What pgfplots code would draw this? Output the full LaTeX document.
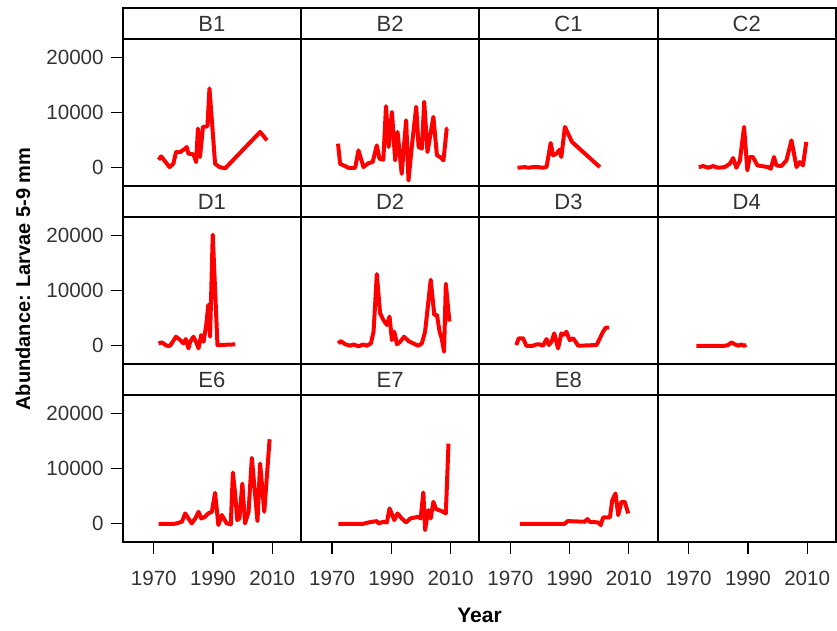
\documentclass[border=0pt]{standalone}
\usepackage{pgfplots}
\pgfplotsset{compat=1.18}
\usepackage{fontspec}
\setmainfont{Liberation Sans}
\definecolor{txtgray}{HTML}{333333}

\pgfplotsset{
  every axis title shift=0pt,
  panel/.style={
    scale only axis, width=89.15pt, height=73.5pt,
    xmin=1959.5, xmax=2019.7, ymin=-3300, ymax=23300,
    axis line style={line width=1pt, black},
    xtick=\empty, ytick=\empty,
    anchor=south west,
    tick align=outside,
    major tick length=6pt,
    tick style={black, line width=0.6pt},
    scaled ticks=false,
    /pgf/number format/1000 sep={},
    /pgf/number format/assume math mode=true,
    tick label style={font=\fontsize{10.3}{12}\selectfont, text=txtgray},
    xticklabel style={yshift=-5pt},
    title style={at={(rel axis cs:0.5,1)}, anchor=south, yshift=0pt, draw=black, line width=1pt,
      minimum width=89.15pt, minimum height=15.5pt, inner sep=0pt, outer sep=0pt,
      font=\fontsize{11}{13}\selectfont, text=txtgray},
  },
  leftcol/.style={ytick={0,10000,20000}, ytick pos=left},
  bottomrow/.style={xtick={1970,1990,2010}, xtick pos=bottom},
  ser/.style={color=red, line width=2pt, line join=round, no markers},
}

\begin{document}
\begin{tikzpicture}
\useasboundingbox (0,0) rectangle (418.5pt,315.5pt);

% Row 1
\begin{axis}[panel, leftcol, title={B1}, at={(61.35pt,222.5pt)}]
\addplot[ser] coordinates {(1971.6,1450)(1972.5,2060)(1975.3,120)(1976.6,730)(1977.5,2850)(1978.9,2850)(1980.6,3450)(1981.1,3760)(1981.7,2550)(1983.4,2420)(1984.3,1030)(1984.9,7090)(1985.6,1940)(1986.6,7390)(1988.1,7500)(1988.8,14360)(1990.7,730)(1992.2,120)(1994.1,-100)(2005.9,6480)(2008.2,4970)};
\end{axis}
\begin{axis}[panel, title={B2}, at={(150.5pt,222.5pt)}]
\addplot[ser] coordinates {(1972,4360)(1972.7,730)(1975.5,0)(1977.8,0)(1978.9,3150)(1980.6,120)(1982.3,850)(1983.7,1030)(1985.1,4060)(1986,1640)(1987.3,1450)(1988.2,11150)(1989.1,3760)(1990.2,10100)(1991.3,1330)(1992.1,6480)(1993.5,-1090)(1995,8600)(1995.8,-2300)(1996.9,3760)(1998.4,11030)(1999.2,3760)(2000.3,3450)(2001.1,11940)(2002.2,2850)(2004.2,9210)(2005.4,2240)(2006.5,1940)(2007.6,1330)(2008.7,7090)(2009,7090)};
\end{axis}
\begin{axis}[panel, title={C1}, at={(239.65pt,222.5pt)}]
\addplot[ser] coordinates {(1972.4,0)(1974.9,120)(1976,0)(1977.7,120)(1979.4,120)(1980.7,0)(1982.2,120)(1983.6,4480)(1984.4,2240)(1985.5,2540)(1986.7,3270)(1987.2,1940)(1988.4,7390)(1990.8,4670)(2000.2,120)};
\end{axis}
\begin{axis}[panel, title={C2}, at={(328.8pt,222.5pt)}]
\addplot[ser] coordinates {(1973.4,120)(1974.9,300)(1976.6,0)(1978.2,300)(1979.9,0)(1982.2,120)(1983.9,730)(1985,1760)(1986.1,0)(1987.3,1330)(1988.7,7390)(1989.8,-480)(1990.6,1940)(1991.7,1940)(1993.2,420)(1996.8,120)(1997.7,-180)(1998.8,1940)(1999.6,420)(2001.3,300)(2003,1330)(2004.7,4970)(2006.4,120)(2007.5,1030)(2008.6,420)(2009.7,4670)};
\end{axis}

% Row 2
\begin{axis}[panel, leftcol, title={D1}, at={(61.35pt,133.5pt)}]
\addplot[ser] coordinates {(1971.6,430)(1972.7,610)(1974.4,0)(1975.5,0)(1977.5,1640)(1978.9,1030)(1980,430)(1980.8,1210)(1981.7,-480)(1982.3,730)(1983.4,1640)(1984.5,430)(1985.1,-480)(1986,1940)(1986.8,730)(1987.7,3760)(1988.4,7400)(1989,1640)(1989.9,20100)(1991.5,120)(1997.5,250)};
\end{axis}
\begin{axis}[panel, title={D2}, at={(150.5pt,133.5pt)}]
\addplot[ser] coordinates {(1972.1,430)(1972.9,850)(1974.5,250)(1976.1,0)(1977.2,250)(1978.9,-100)(1980.6,250)(1981.7,0)(1983.1,430)(1984,2550)(1985.1,12970)(1986.2,5890)(1987.3,4670)(1988.5,3760)(1989.4,5280)(1990.2,1030)(1991,2550)(1991.9,250)(1993,730)(1994.3,1640)(1995.8,850)(1997.4,430)(1999.1,0)(2000.3,430)(2001.4,2550)(2003.3,11940)(2004.5,5580)(2005.4,5580)(2006.3,2550)(2007,1330)(2007.8,-1080)(2008.4,11210)(2009.6,4370)};
\end{axis}
\begin{axis}[panel, title={D3}, at={(239.65pt,133.5pt)}]
\addplot[ser] coordinates {(1972,130)(1972.8,1340)(1974.3,1340)(1975.4,0)(1977.7,0)(1978.8,250)(1979.9,250)(1981,0)(1982.2,1210)(1983,130)(1983.9,730)(1984.8,2240)(1985.5,730)(1986.1,-480)(1987.2,2240)(1988.1,1940)(1988.9,2550)(1990,1030)(1991.2,1340)(1992.9,0)(1999.1,130)(2001.3,2550)(2002.2,3270)(2003.3,3270)};
\end{axis}
\begin{axis}[panel, title={D4}, at={(328.8pt,133.5pt)}]
\addplot[ser] coordinates {(1972.6,0)(1982.2,0)(1983.3,130)(1984.4,610)(1985.6,250)(1986.7,0)(1987.8,250)(1988.6,0)(1989.5,130)};
\end{axis}

% Row 3
\begin{axis}[panel, leftcol, bottomrow, title={E6}, at={(61.35pt,44.5pt)}]
\addplot[ser] coordinates {(1971.6,0)(1977.2,0)(1979.5,360)(1980.6,1870)(1981.7,960)(1982.8,60)(1984,960)(1985.1,2170)(1986,960)(1987.3,1260)(1988.4,1870)(1989.6,2170)(1990.7,5600)(1991.8,-240)(1993,1570)(1994.6,60)(1996,-120)(1996.7,9270)(1997.4,5780)(1998.2,660)(1998.9,960)(1999.9,7280)(2000.8,60)(2002,2170)(2003.1,11920)(2005,480)(2005.9,10900)(2007.3,2170)(2009.1,15290)};
\end{axis}
\begin{axis}[panel, bottomrow, title={E7}, at={(150.5pt,44.5pt)}]
\addplot[ser] coordinates {(1972.1,0)(1980.6,0)(1982.3,240)(1985.1,480)(1985.7,60)(1987.3,360)(1988.5,240)(1989.4,2770)(1991,660)(1992.1,1870)(1993.5,960)(1995,240)(1996.4,960)(1999.1,1260)(1999.9,960)(2000.8,5660)(2001.4,-1140)(2002.5,2470)(2003.3,960)(2004.2,3970)(2005.1,2650)(2007,2290)(2008.4,1870)(2009.3,14510)};
\end{axis}
\begin{axis}[panel, bottomrow, title={E8}, at={(239.65pt,44.5pt)}]
\addplot[ser] coordinates {(1973.2,0)(1988.4,0)(1989.3,480)(1995.1,360)(1996,840)(1996.8,360)(1999.6,240)(2000.5,-240)(2001.3,1140)(2003.6,1140)(2004.4,4270)(2005.5,5480)(2006.4,1570)(2007.5,3970)(2008.6,3970)(2009.8,1870)};
\end{axis}
\begin{axis}[panel, bottomrow, title={\strut}, at={(328.8pt,44.5pt)}]
\end{axis}

\node[rotate=90, font=\bfseries\fontsize{10}{12}\selectfont, text=black] at (11.5pt,176pt) {Abundance: Larvae 5-9 mm};
\node[font=\bfseries\fontsize{10.5}{12}\selectfont, text=black] at (239.75pt,8pt) {Year};
\end{tikzpicture}
\end{document}
